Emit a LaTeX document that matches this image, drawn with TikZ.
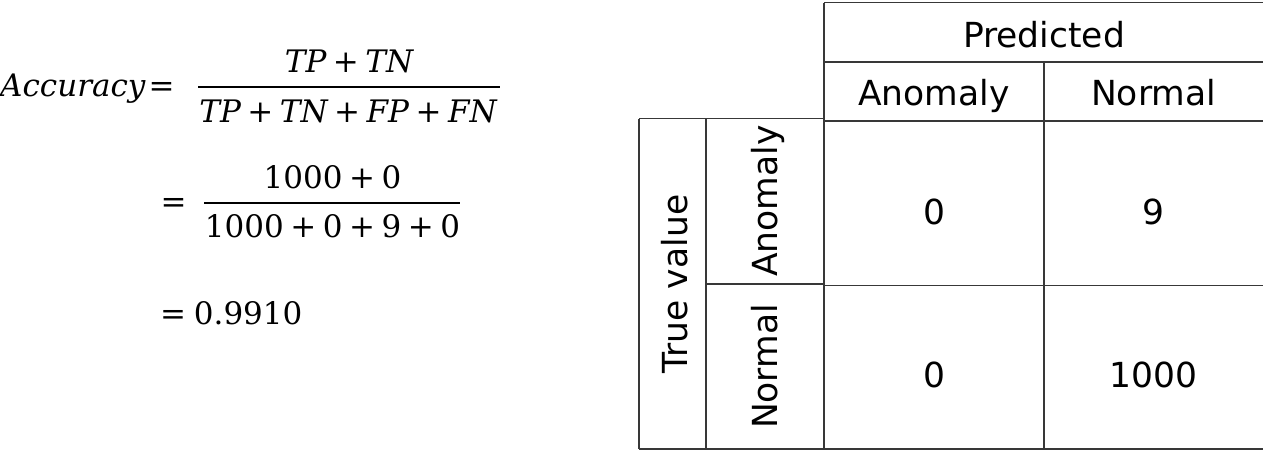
\documentclass[tikz,border=0pt]{standalone}
\usepackage{fontspec}
\newfontfamily\tabfont{DejaVu Sans}
\newfontfamily\eqfont{DejaVu Serif}
\newcommand{\pl}{\hspace{0.21em}+\hspace{0.21em}}
\newcommand{\vv}[1]{{\itshape #1}}
\tikzset{
  grid/.style={draw=black!78, line width=1.1pt},
  cell/.style={inner sep=0pt, font=\tabfont\fontsize{34.5}{41}\selectfont, text=black},
  eqn/.style={inner sep=0pt, text=black, font=\eqfont\fontsize{31}{37}\selectfont},
  fbar/.style={draw=black, line width=1.6pt},
}
\begin{document}
\begin{tikzpicture}[x=1pt,y=-1pt]
\useasboundingbox (0,0) rectangle (1263,456);
% equations
\node[eqn, anchor=base west] (acc) at (0,96) {\vv{Accuracy}};
\node[eqn, anchor=base] (eq1) at (161.5,96) {=};
\node[eqn, anchor=base] (n1) at (349,72) {\vv{TP}\pl\vv{TN}};
\node[eqn, anchor=base] (d1) at (348,122) {\vv{TP}\pl\vv{TN}\pl\vv{FP}\pl\vv{FN}};
\coordinate (b1a) at (198,87);
\coordinate (b1b) at (500,87);
\draw[fbar] (b1a) -- (b1b);
\node[eqn, anchor=base] (eq2) at (173.5,212) {=};
\node[eqn, anchor=base] (n2) at (332.5,188) {1000\pl0};
\node[eqn, anchor=base] (d2) at (332.5,237) {1000\pl0\pl9\pl0};
\coordinate (b2a) at (204,203);
\coordinate (b2b) at (460,203);
\draw[fbar] (b2a) -- (b2b);
\node[eqn, anchor=base west] (eq3) at (160,324) {=\hspace{0.25em}0.9910};
% table grid
\draw[grid] (824,2.5) -- (1263,2.5);
\draw[grid] (824,62) -- (1263,62);
\draw[grid] (824,2.5) -- (824,449);
\draw[grid] (1044,62) -- (1044,449);
\draw[grid] (824,121) -- (1263,121);
\draw[grid] (639,118.5) -- (824,118.5);
\draw[grid] (639,118.5) -- (639,449);
\draw[grid] (706,118.5) -- (706,449);
\draw[grid] (706,284) -- (824,284);
\draw[grid] (824,285.5) -- (1263,285.5);
\draw[grid] (639,449) -- (1263,449);
% table text
\node[cell, anchor=base] (pred) at (1044,47) {Predicted};
\node[cell, anchor=base] (hA) at (934,105) {Anomaly};
\node[cell, anchor=base] (hN) at (1153.5,105) {Normal};
\node[cell, anchor=base] (c11) at (934,224) {0};
\node[cell, anchor=base] (c12) at (1153.5,224) {9};
\node[cell, anchor=base] (c21) at (934,387) {0};
\node[cell, anchor=base] (c22) at (1153.5,387) {1000};
\node[cell, anchor=base, rotate=90] (tv) at (687,284) {True value};
\node[cell, anchor=base, rotate=90] (rA) at (777,201) {Anomaly};
\node[cell, anchor=base, rotate=90] (rN) at (777,366.5) {Normal};
\end{tikzpicture}
\end{document}
